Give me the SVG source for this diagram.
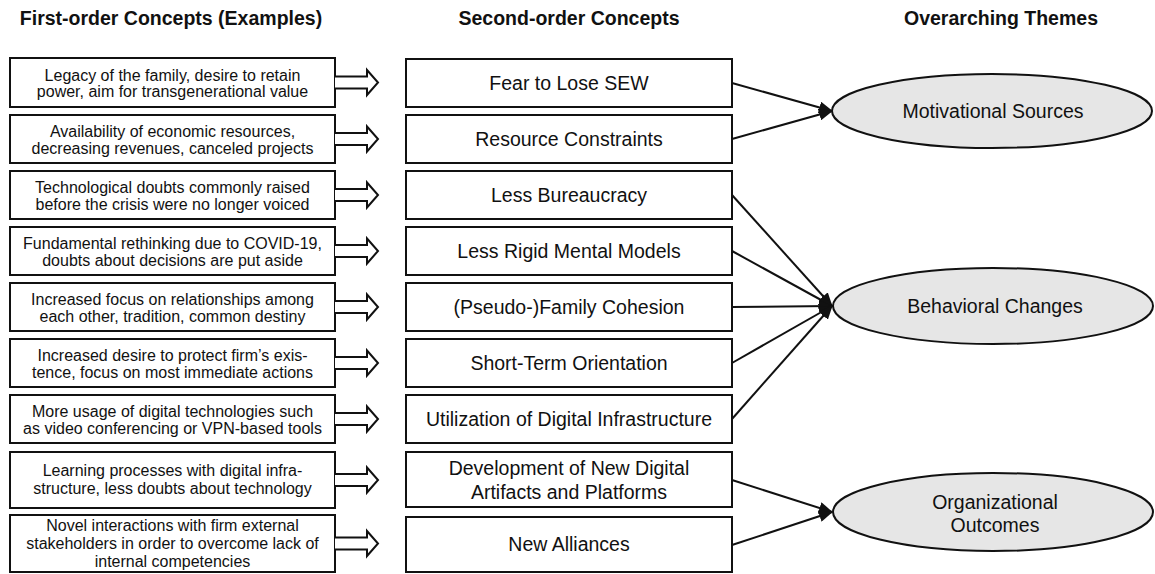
<svg xmlns="http://www.w3.org/2000/svg" width="1155" height="574" viewBox="0 0 1155 574">
<style>
text{font-family:"Liberation Sans",Arial,sans-serif;fill:#111;text-anchor:middle}
.h{font-size:19.5px;font-weight:bold}
.s{font-size:16px}
.m{font-size:19.5px}
.box{fill:#fff;stroke:#111;stroke-width:2}
.ba{fill:#fff;stroke:#111;stroke-width:2;stroke-linejoin:miter}
.ell{fill:#e6e6e6;stroke:#111;stroke-width:2}
.con{stroke:#111;stroke-width:2;fill:none;marker-end:url(#ah)}
</style>
<defs>
<marker id="ah" markerUnits="userSpaceOnUse" markerWidth="14" markerHeight="12" refX="13" refY="6" orient="auto">
<path d="M0,0 L14,6 L0,12 z" fill="#111"/>
</marker>
</defs>
<rect width="1155" height="574" fill="#fff"/>
<g id="headers">
<text class="h" x="171" y="25">First-order Concepts (Examples)</text>
<text class="h" x="569" y="25">Second-order Concepts</text>
<text class="h" x="1001" y="25">Overarching Themes</text>
</g>
<g id="first-order">
<g id="f1"><rect class="box" x="10" y="58" width="325" height="49"/><path class="ba" d="M335,76.5 H367 V70 L378,82.5 L367,95 V88.5 H335"/><text class="s" x="172.5" y="81">Legacy of the family, desire to retain</text><text class="s" x="172.5" y="97">power, aim for transgenerational value</text></g>
<g id="f2"><rect class="box" x="10" y="115" width="325" height="48"/><path class="ba" d="M335,133 H367 V126.5 L378,139 L367,151.5 V145 H335"/><text class="s" x="172.5" y="137">Availability of economic resources,</text><text class="s" x="172.5" y="154">decreasing revenues, canceled projects</text></g>
<g id="f3"><rect class="box" x="10" y="171" width="325" height="48"/><path class="ba" d="M335,189 H367 V182.5 L378,195 L367,207.5 V201 H335"/><text class="s" x="172.5" y="193">Technological doubts commonly raised</text><text class="s" x="172.5" y="210">before the crisis were no longer voiced</text></g>
<g id="f4"><rect class="box" x="10" y="227" width="325" height="48"/><path class="ba" d="M335,245 H367 V238.5 L378,251 L367,263.5 V257 H335"/><text class="s" x="172.5" y="249">Fundamental rethinking due to COVID-19,</text><text class="s" x="172.5" y="266">doubts about decisions are put aside</text></g>
<g id="f5"><rect class="box" x="10" y="283" width="325" height="48"/><path class="ba" d="M335,301 H367 V294.5 L378,307 L367,319.5 V313 H335"/><text class="s" x="172.5" y="305">Increased focus on relationships among</text><text class="s" x="172.5" y="322">each other, tradition, common destiny</text></g>
<g id="f6"><rect class="box" x="10" y="339" width="325" height="48"/><path class="ba" d="M335,357 H367 V350.5 L378,363 L367,375.5 V369 H335"/><text class="s" x="172.5" y="361">Increased desire to protect firm’s exis-</text><text class="s" x="172.5" y="378">tence, focus on most immediate actions</text></g>
<g id="f7"><rect class="box" x="10" y="395" width="325" height="48"/><path class="ba" d="M335,413 H367 V406.5 L378,419 L367,431.5 V425 H335"/><text class="s" x="172.5" y="417">More usage of digital technologies such</text><text class="s" x="172.5" y="434">as video conferencing or VPN-based tools</text></g>
<g id="f8"><rect class="box" x="10" y="452" width="325" height="56"/><path class="ba" d="M335,474 H367 V467.5 L378,480 L367,492.5 V486 H335"/><text class="s" x="172.5" y="476">Learning processes with digital infra-</text><text class="s" x="172.5" y="494">structure, less doubts about technology</text></g>
<g id="f9"><rect class="box" x="10" y="515" width="325" height="57"/><path class="ba" d="M335,537.5 H367 V531 L378,543.5 L367,556 V549.5 H335"/><text class="s" x="172.5" y="531">Novel interactions with firm external</text><text class="s" x="172.5" y="549">stakeholders in order to overcome lack of</text><text class="s" x="172.5" y="567">internal competencies</text></g>
</g>
<g id="second-order">
<g id="s1"><rect class="box" x="406" y="59" width="326" height="48"/><text class="m" x="569" y="90">Fear to Lose SEW</text></g>
<g id="s2"><rect class="box" x="406" y="115" width="326" height="48"/><text class="m" x="569" y="146">Resource Constraints</text></g>
<g id="s3"><rect class="box" x="406" y="171" width="326" height="48"/><text class="m" x="569" y="202">Less Bureaucracy</text></g>
<g id="s4"><rect class="box" x="406" y="227" width="326" height="48"/><text class="m" x="569" y="258">Less Rigid Mental Models</text></g>
<g id="s5"><rect class="box" x="406" y="283" width="326" height="48"/><text class="m" x="569" y="314">(Pseudo-)Family Cohesion</text></g>
<g id="s6"><rect class="box" x="406" y="339" width="326" height="48"/><text class="m" x="569" y="370">Short-Term Orientation</text></g>
<g id="s7"><rect class="box" x="406" y="395" width="326" height="48"/><text class="m" x="569" y="426">Utilization of Digital Infrastructure</text></g>
<g id="s8"><rect class="box" x="406" y="452" width="326" height="55"/><text class="m" x="569" y="475">Development of New Digital</text><text class="m" x="569" y="499">Artifacts and Platforms</text></g>
<g id="s9"><rect class="box" x="406" y="517" width="326" height="55"/><text class="m" x="569" y="551">New Alliances</text></g>
</g>
<g id="themes">
<g id="t1"><ellipse class="ell" cx="992" cy="111" rx="160" ry="37"/><text class="m" x="993" y="118">Motivational Sources</text></g>
<g id="t2"><ellipse class="ell" cx="993" cy="306" rx="160" ry="38"/><text class="m" x="995" y="313">Behavioral Changes</text></g>
<g id="t3"><ellipse class="ell" cx="993" cy="512" rx="160" ry="39"/><text class="m" x="995" y="509">Organizational</text><text class="m" x="995" y="532">Outcomes</text></g>
</g>
<g id="connectors">
<line class="con" x1="732" y1="83" x2="832" y2="111"/>
<line class="con" x1="732" y1="139" x2="832" y2="111"/>
<line class="con" x1="732" y1="195" x2="832" y2="306"/>
<line class="con" x1="732" y1="251" x2="832" y2="306"/>
<line class="con" x1="732" y1="307" x2="832" y2="306"/>
<line class="con" x1="732" y1="363" x2="832" y2="306"/>
<line class="con" x1="732" y1="419" x2="832" y2="306"/>
<line class="con" x1="732" y1="480" x2="832" y2="512"/>
<line class="con" x1="732" y1="545" x2="832" y2="512"/>
</g>
</svg>
